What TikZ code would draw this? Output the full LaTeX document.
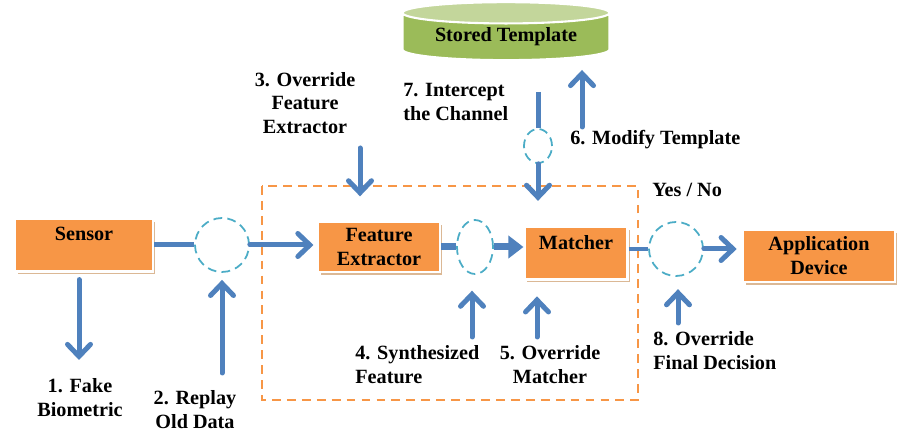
\documentclass[tikz,border=0pt]{standalone}
\usepackage{fontspec}
\setmainfont{Liberation Serif}
\usetikzlibrary{arrows.meta,shapes.geometric,shadows}

\definecolor{boxorange}{HTML}{F79646}
\definecolor{arrowblue}{HTML}{4F81BD}
\definecolor{ringblue}{HTML}{4BACC6}
\definecolor{tplgreen}{HTML}{9BBB59}
\definecolor{tpltop}{HTML}{C3D69B}
\definecolor{shadowtan}{HTML}{D7B08A}

\tikzset{
  txt/.style={font=\bfseries\fontsize{11.5}{13.6}\selectfont, inner sep=0pt},
  block/.style={fill=boxorange, draw=white, line width=1.2pt, inner sep=0pt,
    drop shadow={shadow xshift=.05cm, shadow yshift=-.06cm, fill=shadowtan, opacity=.9}},
  ring/.style={draw=ringblue, line width=1pt, dash pattern=on 5pt off 3pt, inner sep=0pt},
  attack/.style={draw=arrowblue, line width=.1cm, line cap=round,
    -{Straight Barb[length=2.4mm,width=4.6mm,line cap=round]}},
  link/.style={draw=arrowblue, line width=.1cm},
}

\begin{document}
\begin{tikzpicture}[x=0.02cm, y=-0.02cm]
  \useasboundingbox (0,0) rectangle (897,432);
  % stage boundary
  \draw[boxorange, line width=1pt, dash pattern=on 5pt off 3.5pt] (262,186) rectangle (638,400);
  % blocks
  \node[block, minimum width=2.76cm, minimum height=1.06cm] (sensor) at (84,245) {};
  \node[txt] (sensortxt) at (84,234) {Sensor};
  \node[block, minimum width=2.44cm, minimum height=1.0cm, txt, align=center] (fe) at (379,247) {Feature\\Extractor};
  \node[block, minimum width=2.06cm, minimum height=1.06cm] (matcher) at (576,253) {};
  \node[txt] (matchertxt) at (576,243) {Matcher};
  \node[block, minimum width=3.04cm, minimum height=1.04cm, txt, align=center] (app) at (819,256) {Application\\Device};
  % template store
  \node[cylinder, shape border rotate=90, aspect=0.15, minimum width=4.14cm, minimum height=1.16cm,
    cylinder uses custom fill, cylinder body fill=tplgreen, cylinder end fill=tpltop,
    draw=white, line width=1.2pt, txt] (store) at (506,37) {Stored Template};
  % attack points
  \node[ring, circle, minimum size=1.08cm] (r1) at (222,245) {};
  \node[ring, ellipse, minimum width=.72cm, minimum height=1.08cm] (r2) at (475,247) {};
  \node[ring, circle, minimum size=1.08cm] (r3) at (676,249) {};
  \node[ring, ellipse, minimum width=.56cm, minimum height=.68cm] (r7) at (538,146) {};
  % main flow
  \draw[link] (sensor.east) -- (r1.west);
  \draw[attack] (r1.east) -- ([xshift=-2pt]fe.west |- r1.east);
  \draw[arrowblue, line width=.14cm] (fe.east |- r2.west) -- (r2.west);
  \draw[arrowblue, line width=.14cm, -{Triangle[length=3mm,width=4.4mm]}] (r2.east) -- (matcher.west |- r2.east);
  \draw[arrowblue, line width=.08cm] (matcher.east |- r3.west) -- (r3.west);
  \draw[attack] (r3.east) -- ([xshift=-3pt]app.west |- r3.east);
  % channel to and from the store
  \coordinate (c7) at (538,92);
  \coordinate (c6) at (582,127);
  \draw[link] (c7) -- (r7.north);
  \draw[attack, shorten >=14pt] (r7.south) -- (matcher.north -| r7.south);
  \draw[attack, shorten >=5pt] (c6) -- (store.south -| c6);
  % attacks from outside
  \coordinate (c3) at (360,148);
  \coordinate (c1) at (79,360);
  \coordinate (c2) at (222,373);
  \coordinate (c4) at (472,337);
  \coordinate (c5) at (537,337);
  \coordinate (c8) at (678,323);
  \draw[attack, shorten >=14pt] (c3) -- (fe.north -| c3);
  \draw[attack, shorten <=4pt] (sensor.south -| c1) -- (c1);
  \draw[attack, shorten >=4pt] (c2) -- (r1.south);
  \draw[attack, shorten >=9pt] (c4) -- (r2.south -| c4);
  \draw[attack, shorten >=9pt] (c5) -- (matcher.south -| c5);
  \draw[attack, shorten >=7pt] (c8) -- (r3.south -| c8);
  % labels
  \node[txt, align=center] (l3) at (305,103) {3. Override\\Feature\\Extractor};
  \node[txt, align=left, anchor=west] (l7) at (403,102) {7. Intercept\\the Channel};
  \node[txt, anchor=west] (l6) at (570,140) {6. Modify Template};
  \node[txt, anchor=west] (lyn) at (652,190) {Yes / No};
  \node[txt, align=center] (l1) at (80,398) {1. Fake\\Biometric};
  \node[txt, align=center] (l2) at (195,410) {2. Replay\\Old Data};
  \node[txt, align=left, anchor=west] (l4) at (355,365) {4. Synthesized\\Feature};
  \node[txt, align=center] (l5) at (550,365) {5. Override\\Matcher};
  \node[txt, align=left, anchor=west] (l8) at (653,351) {8. Override\\Final Decision};
\end{tikzpicture}
\end{document}
